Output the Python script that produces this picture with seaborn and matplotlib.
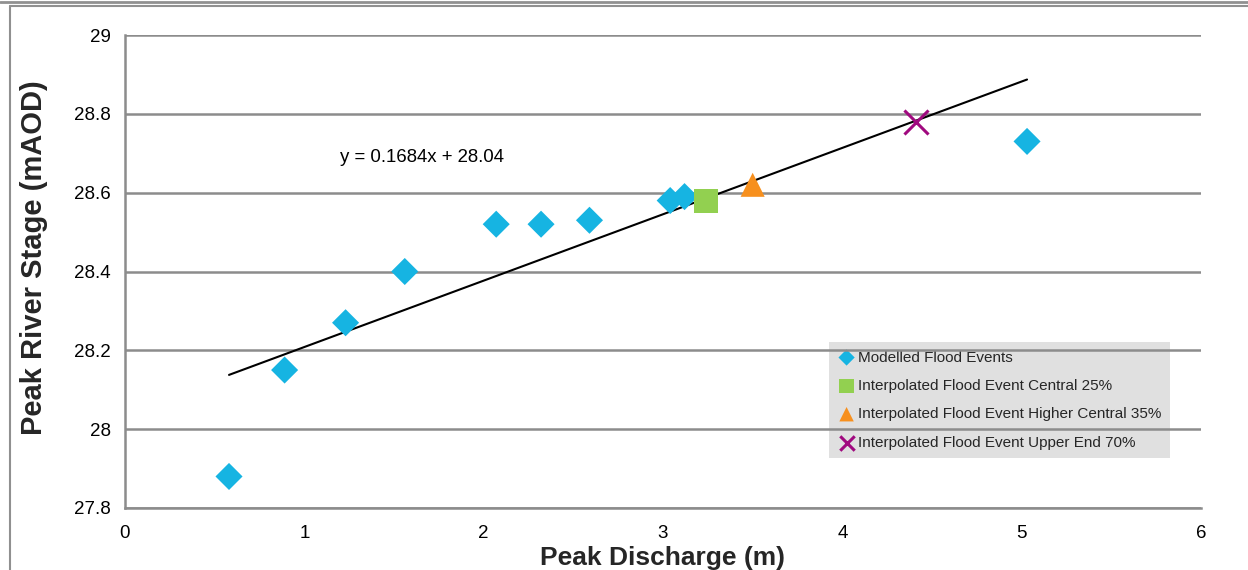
import matplotlib
matplotlib.use("Agg")
import matplotlib.pyplot as plt
import seaborn as sns
import pandas as pd
from matplotlib import font_manager
from matplotlib.lines import Line2D
from matplotlib.ticker import FuncFormatter

# ---- data ----
modelled_x = [0.58, 0.89, 1.23, 1.56, 2.07, 2.32, 2.59, 3.04, 3.12, 5.03]
modelled_y = [27.88, 28.15, 28.27, 28.40, 28.52, 28.52, 28.53, 28.58, 28.59, 28.73]
central_x = [3.24]
central_y = [28.58]
higher_x = [3.50]
higher_y = [28.62]
upper_x = [4.41]
upper_y = [28.78]
slope = 0.1684
intercept = 28.04
equation_label = "y = 0.1684x + 28.04"
series_names = ["Modelled Flood Events",
                "Interpolated Flood Event Central 25%",
                "Interpolated Flood Event Higher Central 35%",
                "Interpolated Flood Event Upper End 70%"]
x_ticks = [0, 1, 2, 3, 4, 5, 6]
y_ticks = [27.8, 28.0, 28.2, 28.4, 28.6, 28.8, 29.0]
x_label = "Peak Discharge (m)"
y_label = "Peak River Stage (mAOD)"

sns.set_theme(style="white")
names = {f.name for f in font_manager.fontManager.ttflist}
base = "Liberation Sans" if "Liberation Sans" in names else "DejaVu Sans"
narrow = "Liberation Sans Narrow" if "Liberation Sans Narrow" in names else base
plt.rcParams["font.family"] = [base, "DejaVu Sans"]

fig = plt.figure(figsize=(12.48, 5.70), dpi=100)
ax = fig.add_axes([125 / 1248, 1 - 508 / 570, 1076 / 1248, 473 / 570])

grey = "#8c8c8c"
df_m = pd.DataFrame({"x": modelled_x, "y": modelled_y})
sns.scatterplot(data=df_m, x="x", y="y", ax=ax, marker="D", s=190, color="#16b4e2",
                edgecolor="none", label=series_names[0], zorder=3)
sns.scatterplot(x=central_x, y=central_y, ax=ax, marker="s", s=300, color="#92d050",
                edgecolor="none", label=series_names[1], zorder=3)
sns.scatterplot(x=higher_x, y=higher_y, ax=ax, marker="^", s=300, color="#f7901e",
                edgecolor="none", label=series_names[2], zorder=3)
sns.scatterplot(x=upper_x, y=upper_y, ax=ax, marker="x", s=300, color="#a0097f",
                linewidth=2.2, label=series_names[3], zorder=3)

# trend line over the modelled range
x0, x1 = min(modelled_x), max(modelled_x)
trend = pd.DataFrame({"x": [x0, x1], "y": [slope * x0 + intercept, slope * x1 + intercept]})
sns.lineplot(data=trend, x="x", y="y", ax=ax, color="black", linewidth=1.5, zorder=2.5,
             legend=False)
ax.text(1.655, 28.688, equation_label, ha="center", va="center", fontsize=13.4,
        color="black")

ax.set_xlim(0, 6)
ax.set_ylim(27.8, 29.0)
ax.set_xticks(x_ticks)
ax.set_yticks(y_ticks)
ax.yaxis.set_major_formatter(FuncFormatter(lambda v, p: f"{v:g}"))
ax.tick_params(axis="both", labelsize=13.5, colors="black", length=5, width=1.5,
               direction="out", color=grey, pad=4)
ax.tick_params(axis="x", pad=7)
ax.tick_params(axis="y", pad=5)
ax.set_axisbelow(True)
ax.yaxis.grid(True, color=grey, linewidth=1.8)
ax.xaxis.grid(False)
for s in ["top", "right"]:
    ax.spines[s].set_visible(False)
for s in ["left", "bottom"]:
    ax.spines[s].set_color(grey)
    ax.spines[s].set_linewidth(1.8)
ax.set_xlabel(x_label, fontsize=19, fontweight="bold", labelpad=3)
ax.set_ylabel(y_label, fontsize=21, fontweight="bold")
ax.yaxis.set_label_coords((48 - 125) / 1076, (508 - 258) / 473)

leg = ax.legend(loc="lower left", bbox_to_anchor=((829 - 125) / 1076, (508 - 458) / 473),
                borderaxespad=0, frameon=True, fancybox=False, framealpha=1,
                facecolor="#e0e0e0", edgecolor="none", markerscale=0.6,
                handlelength=1.2, handletextpad=0.15, labelspacing=0.94,
                borderpad=0.55, prop={"family": narrow, "size": 11})
leg.set_zorder(0.4)

# outer frame lines
fig.add_artist(Line2D([0, 1], [1 - 1.5 / 570, 1 - 1.5 / 570], color="#909090", lw=2))
fig.add_artist(Line2D([9.5 / 1248, 1], [1 - 6 / 570, 1 - 6 / 570], color="#909090", lw=1.5))
fig.add_artist(Line2D([9.5 / 1248, 9.5 / 1248], [0, 1 - 6 / 570], color="#909090", lw=1.5))

fig.savefig("out.png", dpi=100)
